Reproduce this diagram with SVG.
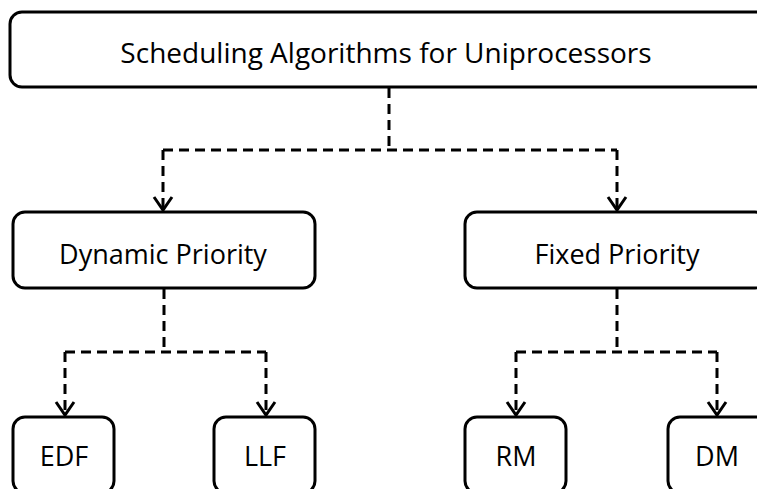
<svg xmlns="http://www.w3.org/2000/svg" width="757" height="489" viewBox="0 0 757 489">
<style>
.box{fill:#fff;stroke:#000;stroke-width:3}
.lbl{font-family:"Open Sans","Liberation Sans",sans-serif;font-size:27px;fill:#000;text-anchor:middle}
.big{font-size:28px}
.con{fill:none;stroke:#000;stroke-width:3;stroke-dasharray:10 6}
.head{fill:none;stroke:#000;stroke-width:3;stroke-linejoin:miter}
</style>
<rect width="757" height="489" fill="#fff"/>
<g id="connectors">
<path class="con" d="M389 88 V150 M163 150 H617 M163 150 V208 M617 150 V208"/>
<path class="con" d="M164 289 V352 M65 352 H266 M65 352 V413 M266 352 V413"/>
<path class="con" d="M617 289 V352 M516 352 H717 M516 352 V413 M717 352 V413"/>
<path class="head" d="M154 197 L163 210 L172 197 M608 197 L617 210 L626 197 M56 402 L65 415 L74 402 M257 402 L266 415 L275 402 M507 402 L516 415 L525 402 M708 402 L717 415 L726 402"/>
</g>
<g id="root"><rect class="box" x="10" y="12" width="758" height="75" rx="12"/><text class="lbl big" x="386" y="63">Scheduling Algorithms for Uniprocessors</text></g>
<g id="dynamic"><rect class="box" x="13" y="212" width="302" height="76" rx="12"/><text class="lbl" x="163" y="264">Dynamic Priority</text></g>
<g id="fixed"><rect class="box" x="465" y="212" width="302" height="76" rx="12"/><text class="lbl" x="617" y="264">Fixed Priority</text></g>
<g id="edf"><rect class="box" x="13" y="417" width="101" height="76" rx="12"/><text class="lbl" x="64" y="466">EDF</text></g>
<g id="llf"><rect class="box" x="214" y="417" width="101" height="76" rx="12"/><text class="lbl" x="265" y="466">LLF</text></g>
<g id="rm"><rect class="box" x="465" y="417" width="101" height="76" rx="12"/><text class="lbl" x="516" y="466">RM</text></g>
<g id="dm"><rect class="box" x="668" y="417" width="101" height="76" rx="12"/><text class="lbl" x="717" y="466">DM</text></g>
</svg>
